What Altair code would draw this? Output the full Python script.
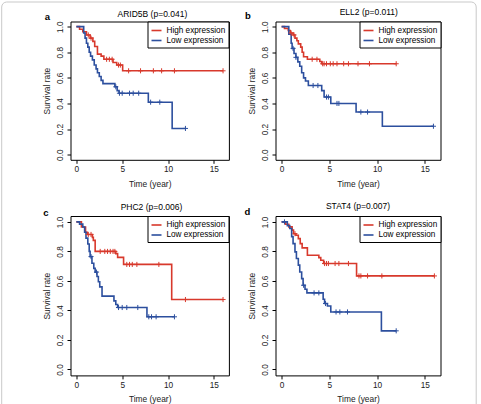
import altair as alt
import pandas as pd

# ---- Kaplan-Meier curves: step times (years), survival after each step, censor times ----
A_HIGH_T = [0, 0.35, 0.7, 1.1, 1.5, 1.8, 2.0, 2.3, 2.7, 3.0, 4.0, 4.4, 5.05]
A_HIGH_S = [1.0, 0.98, 0.96, 0.935, 0.91, 0.885, 0.845, 0.785, 0.77, 0.745, 0.72, 0.70, 0.655]
A_HIGH_C = [1.3, 1.6, 3.3, 3.6, 3.9, 4.6, 4.8, 5.7, 7.0, 8.4, 9.3, 10.7, 16.0]
A_LOW_T = [0, 0.8, 0.95, 1.1, 1.25, 1.4, 1.55, 1.75, 1.95, 2.15, 2.3, 2.5, 2.7, 2.9, 4.2, 4.45, 4.65, 7.85, 10.45]
A_LOW_S = [1.0, 0.95, 0.91, 0.87, 0.84, 0.80, 0.77, 0.74, 0.70, 0.67, 0.64, 0.61, 0.58, 0.555, 0.53, 0.50, 0.48, 0.41, 0.205]
A_LOW_C = [4.3, 4.7, 5.0, 5.8, 6.2, 6.8, 8.1, 9.1, 11.9]

B_HIGH_T = [0, 0.3, 0.7, 0.9, 1.2, 1.4, 1.6, 1.75, 2.0, 2.15, 2.3, 2.7, 4.0, 4.2]
B_HIGH_S = [1.0, 0.985, 0.97, 0.95, 0.935, 0.91, 0.89, 0.865, 0.84, 0.80, 0.765, 0.745, 0.728, 0.71]
B_HIGH_C = [1.0, 1.3, 3.2, 3.7, 4.3, 4.45, 4.7, 5.1, 5.4, 5.8, 6.5, 7.0, 8.0, 9.2, 12.0]
B_LOW_T = [0, 0.75, 1.0, 1.1, 1.3, 1.5, 1.7, 1.9, 2.1, 2.3, 2.5, 2.8, 4.2, 4.45, 5.15, 7.8, 10.55]
B_LOW_S = [1.0, 0.94, 0.87, 0.83, 0.79, 0.76, 0.725, 0.69, 0.64, 0.60, 0.575, 0.54, 0.50, 0.45, 0.40, 0.333, 0.222]
B_LOW_C = [1.2, 1.5, 3.3, 3.8, 4.7, 4.9, 5.8, 6.0, 8.3, 9.0, 15.9]

C_HIGH_T = [0, 0.55, 1.0, 1.2, 1.75, 1.85, 2.05, 4.3, 4.5, 5.15, 10.4]
C_HIGH_S = [1.0, 0.965, 0.93, 0.915, 0.895, 0.875, 0.80, 0.785, 0.76, 0.712, 0.474]
C_HIGH_C = [1.3, 1.6, 2.6, 3.1, 3.4, 3.7, 4.0, 4.2, 5.5, 5.8, 6.1, 6.6, 9.0, 11.9, 16.0]
C_LOW_T = [0, 0.35, 0.7, 0.9, 1.05, 1.25, 1.4, 1.5, 1.7, 1.9, 2.05, 2.25, 2.4, 2.55, 2.8, 4.1, 4.3, 4.5, 7.7]
C_LOW_S = [1.0, 0.985, 0.965, 0.93, 0.89, 0.85, 0.80, 0.765, 0.72, 0.685, 0.66, 0.63, 0.595, 0.56, 0.497, 0.465, 0.44, 0.42, 0.357]
C_LOW_C = [1.6, 2.2, 4.6, 5.0, 5.5, 6.7, 7.9, 8.2, 8.7, 10.7]

D_HIGH_T = [0, 0.4, 0.75, 1.1, 1.25, 1.5, 1.75, 1.95, 2.15, 2.7, 3.9, 4.1, 4.4, 7.85]
D_HIGH_S = [1.0, 0.984, 0.966, 0.944, 0.92, 0.91, 0.887, 0.853, 0.824, 0.774, 0.758, 0.74, 0.718, 0.634]
D_HIGH_C = [1.4, 4.5, 4.7, 4.9, 5.6, 6.0, 7.0, 8.1, 8.3, 9.0, 10.5, 16.0]
D_LOW_T = [0, 0.6, 0.85, 1.05, 1.2, 1.4, 1.55, 1.75, 1.9, 2.1, 2.25, 2.45, 2.65, 4.35, 4.5, 4.8, 5.15, 10.45]
D_LOW_S = [1.0, 0.975, 0.955, 0.90, 0.853, 0.797, 0.752, 0.707, 0.661, 0.616, 0.571, 0.544, 0.519, 0.476, 0.447, 0.43, 0.39, 0.262]
D_LOW_C = [0.3, 2.3, 3.4, 3.9, 4.6, 5.7, 6.1, 6.9, 12.0]

GROUPS = ["High expression", "Low expression"]
COLORS = ["#d8392c", "#2c4f9e"]
LETTERS = ["a", "b", "c", "d"]
TITLES = ["ARID5B (p=0.041)", "ELL2 (p=0.011)", "PHC2 (p=0.006)", "STAT4 (p=0.007)"]
X_TICKS = [0, 5, 10, 15]
Y_TICKS = [0.0, 0.2, 0.4, 0.6, 0.8, 1.0]

FONT = "Liberation Sans"
PLUS = "M-1,0L1,0M0,-1L0,1"


def km_tables(curves):
    line_rows, cens_rows = [], []
    for group, (times, surv, cens) in zip(GROUPS, curves):
        for t, s in zip(times, surv):
            line_rows.append({"time": t, "surv": s, "group": group})
        line_rows.append({"time": max(times[-1], cens[-1]), "surv": surv[-1], "group": group})
        for c in cens:
            idx = max(i for i, t in enumerate(times) if t <= c)
            cens_rows.append({"time": c, "surv": surv[idx], "group": group})
    return pd.DataFrame(line_rows), pd.DataFrame(cens_rows)


def label(text, pos, size, weight):
    return alt.Chart(pd.DataFrame({"k": [0]})).mark_text(
        font=FONT, fontSize=size, fontWeight=weight, align="center", baseline="middle",
        color="black",
    ).encode(x=alt.value(pos[0]), y=alt.value(pos[1]), text=alt.value(text))


def panel(letter, title, curves, width, height, title_pos, letter_pos, frame=False):
    lines, cens = km_tables(curves)
    cscale = alt.Scale(domain=GROUPS, range=COLORS)
    x = alt.X("time:Q",
              scale=alt.Scale(domain=[-0.64, 16.64], nice=False, zero=False),
              axis=alt.Axis(values=X_TICKS, format="d", title="Time (year)",
                            labelPadding=1.5, titlePadding=6))
    y = alt.Y("surv:Q",
              scale=alt.Scale(domain=[-0.04, 1.04], nice=False, zero=False),
              axis=alt.Axis(values=Y_TICKS, format=".1f", title="Survival rate",
                            labelAngle=270, labelAlign="center", labelBaseline="bottom",
                            labelOverlap=False, labelSeparation=0, labelBound=False,
                            tickCount=6, labelPadding=2.5, titlePadding=4))

    curve = alt.Chart(lines).mark_line(interpolate="step-after", strokeWidth=1.6).encode(
        x=x, y=y,
        color=alt.Color("group:N", scale=cscale,
                        legend=alt.Legend(title=None, orient="top-right", offset=0,
                                          strokeColor="black", fillColor="white",
                                          padding=3, symbolType="stroke", symbolSize=100,
                                          symbolStrokeWidth=1.6, labelFontSize=8.2,
                                          labelFont=FONT, labelColor="black",
                                          labelOffset=4, rowPadding=0, cornerRadius=0)),
    )
    marks = alt.Chart(cens).mark_point(shape=PLUS, size=26, strokeWidth=1, filled=False,
                                       opacity=1).encode(
        x=x, y=y,
        stroke=alt.Stroke("group:N", scale=cscale, legend=None),
    )

    layers = [curve, marks, label(letter, letter_pos, 9.5, "bold"),
              label(title, title_pos, 8.5, "normal")]
    if frame:
        # rounded outer frame of the figure
        border = alt.Chart(pd.DataFrame({"k": [0]})).mark_rect(
            fill="white", fillOpacity=0, stroke="#c9c9c9", strokeWidth=1, cornerRadius=5,
        ).encode(x=alt.value(-68.8), x2=alt.value(405.7), y=alt.value(-19.5), y2=alt.value(400))
        layers = [border] + layers

    return alt.layer(*layers).properties(width=width, height=height)


pa = panel("a", TITLES[0], [(A_HIGH_T, A_HIGH_S, A_HIGH_C), (A_LOW_T, A_LOW_S, A_LOW_C)],
           158.4, 138.3, (81.9, -7.5), (-23, -5), frame=True)
pb = panel("b", TITLES[1], [(B_HIGH_T, B_HIGH_S, B_HIGH_C), (B_LOW_T, B_LOW_S, B_LOW_C)],
           165, 138.3, (93.3, -9.5), (-27.5, -6))
pc = panel("c", TITLES[2], [(C_HIGH_T, C_HIGH_S, C_HIGH_C), (C_LOW_T, C_LOW_S, C_LOW_C)],
           158.4, 159.4, (81, -9), (-24.5, -3.5))
pd_ = panel("d", TITLES[3], [(D_HIGH_T, D_HIGH_S, D_HIGH_C), (D_LOW_T, D_LOW_S, D_LOW_C)],
            165, 159.4, (82.5, -10), (-28, -4.5))

chart = alt.concat(
    pa, pb, pc, pd_, columns=2, spacing={"row": 55.5, "column": 46},
    bounds="flush", align="each",
).resolve_scale(
    color="independent", stroke="independent"
).resolve_legend(
    color="independent"
).properties(
    padding={"left": 0.5, "top": 0.5, "right": 0, "bottom": 0},
    background="white",
).configure_view(
    stroke="black", strokeWidth=1,
).configure_axis(
    domain=False, grid=False, tickSize=3.5, tickColor="black", tickWidth=1,
    labelFont=FONT, labelFontSize=8.3, labelColor="#222222",
    titleFont=FONT, titleFontSize=8.4, titleFontWeight="normal", titleColor="#222222",
    labelFlush=False, labelOverlap=False,
)

chart.save("out.html", embed_options={"renderer": "svg", "actions": False})
